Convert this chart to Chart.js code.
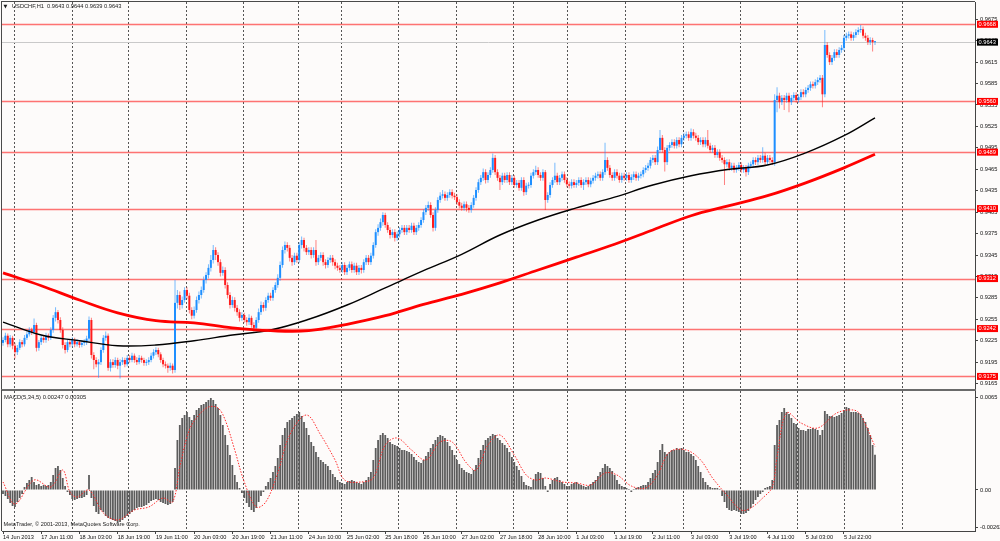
<!DOCTYPE html>
<html><head><meta charset="utf-8">
<script src="https://cdn.jsdelivr.net/npm/chart.js@4.4.0/dist/chart.umd.min.js"></script>
<style>
html,body{margin:0;padding:0;background:#fdfbfa;width:1000px;height:541px;overflow:hidden;}
#p{position:absolute;left:0;top:0;width:1000px;height:390px;}
#m{position:absolute;left:0;top:390px;width:1000px;height:151px;}
</style></head><body>
<div id="p"><canvas id="cp"></canvas></div>
<div id="m"><canvas id="cm"></canvas></div>
<script>
// ---------- DATA ----------
const symbolTitle = "USDCHF,H1  0.9643 0.9644 0.9639 0.9643";
const macdTitle = "MACD(5,34,5) 0.00247 0.00305";
const copyright = "MetaTrader, \u00A9 2001-2013, MetaQuotes Software Corp.";
const firstOpen = 0.9222;
const close = [
0.9226,0.9232,0.9220,0.9229,0.9218,0.9209,0.9215,0.9223,0.9220,0.9229,
0.9234,0.9240,0.9237,0.9247,0.9215,0.9223,0.9229,0.9226,0.9232,0.9229,
0.9240,0.9257,0.9265,0.9254,0.9240,0.9219,0.9212,0.9223,0.9220,0.9226,
0.9220,0.9223,0.9219,0.9222,0.9223,0.9228,0.9254,0.9205,0.9198,0.9192,
0.9195,0.9212,0.9229,0.9232,0.9187,0.9195,0.9191,0.9198,0.9190,0.9195,
0.9198,0.9192,0.9201,0.9198,0.9204,0.9198,0.9195,0.9201,0.9198,0.9194,
0.9195,0.9198,0.9204,0.9209,0.9212,0.9206,0.9198,0.9192,0.9190,0.9187,
0.9190,0.9184,0.9278,0.9289,0.9275,0.9282,0.9296,0.9288,0.9268,0.9260,
0.9268,0.9282,0.9289,0.9296,0.9310,0.9317,0.9327,0.9338,0.9352,0.9345,
0.9335,0.9320,0.9324,0.9303,0.9289,0.9275,0.9282,0.9271,0.9265,0.9257,
0.9261,0.9254,0.9251,0.9257,0.9247,0.9243,0.9254,0.9265,0.9275,0.9271,
0.9282,0.9288,0.9285,0.9296,0.9303,0.9313,0.9331,0.9352,0.9359,0.9355,
0.9341,0.9335,0.9344,0.9338,0.9359,0.9366,0.9355,0.9349,0.9352,0.9345,
0.9352,0.9335,0.9341,0.9345,0.9335,0.9331,0.9338,0.9341,0.9335,0.9330,
0.9327,0.9324,0.9331,0.9321,0.9327,0.9332,0.9324,0.9330,0.9321,0.9327,
0.9324,0.9335,0.9341,0.9335,0.9344,0.9359,0.9377,0.9383,0.9391,0.9401,
0.9387,0.9380,0.9373,0.9377,0.9369,0.9374,0.9380,0.9383,0.9377,0.9383,
0.9380,0.9386,0.9377,0.9383,0.9387,0.9394,0.9405,0.9411,0.9415,0.9401,
0.9383,0.9408,0.9422,0.9428,0.9430,0.9425,0.9429,0.9433,0.9428,0.9426,
0.9419,0.9414,0.9411,0.9416,0.9411,0.9408,0.9415,0.9425,0.9436,0.9447,
0.9453,0.9461,0.9450,0.9457,0.9464,0.9481,0.9461,0.9453,0.9447,0.9456,
0.9450,0.9457,0.9447,0.9453,0.9443,0.9446,0.9439,0.9450,0.9433,0.9442,
0.9443,0.9456,0.9461,0.9464,0.9457,0.9453,0.9461,0.9422,0.9429,0.9443,
0.9450,0.9456,0.9447,0.9453,0.9458,0.9450,0.9444,0.9442,0.9447,0.9443,
0.9446,0.9450,0.9443,0.9447,0.9450,0.9444,0.9449,0.9453,0.9456,0.9458,
0.9453,0.9461,0.9478,0.9467,0.9457,0.9453,0.9461,0.9456,0.9450,0.9456,
0.9453,0.9457,0.9450,0.9454,0.9458,0.9453,0.9456,0.9458,0.9464,0.9467,
0.9470,0.9478,0.9481,0.9475,0.9492,0.9509,0.9492,0.9475,0.9495,0.9499,
0.9503,0.9498,0.9506,0.9500,0.9509,0.9512,0.9514,0.9509,0.9517,0.9512,
0.9509,0.9503,0.9506,0.9500,0.9506,0.9498,0.9492,0.9495,0.9485,0.9489,
0.9481,0.9478,0.9472,0.9475,0.9467,0.9470,0.9464,0.9467,0.9471,0.9464,
0.9467,0.9461,0.9470,0.9472,0.9478,0.9475,0.9481,0.9478,0.9484,0.9475,
0.9481,0.9478,0.9475,0.9562,0.9568,0.9559,0.9565,0.9562,0.9568,0.9559,
0.9565,0.9569,0.9562,0.9566,0.9573,0.9570,0.9576,0.9579,0.9584,0.9582,
0.9587,0.9590,0.9593,0.9570,0.9639,0.9625,0.9615,0.9621,0.9629,0.9625,
0.9632,0.9635,0.9649,0.9652,0.9654,0.9649,0.9653,0.9657,0.9660,0.9661,
0.9652,0.9649,0.9643,0.9646,0.9643,0.9643];
const high = [
0.9230,0.9236,0.9235,0.9233,0.9232,0.9222,0.9219,0.9227,0.9226,0.9233,
0.9238,0.9244,0.9243,0.9256,0.9250,0.9226,0.9233,0.9232,0.9236,0.9235,
0.9244,0.9261,0.9272,0.9268,0.9258,0.9244,0.9223,0.9227,0.9227,0.9230,
0.9229,0.9227,0.9226,0.9226,0.9227,0.9232,0.9259,0.9257,0.9209,0.9202,
0.9199,0.9216,0.9233,0.9238,0.9235,0.9199,0.9199,0.9202,0.9201,0.9199,
0.9202,0.9201,0.9205,0.9205,0.9208,0.9207,0.9202,0.9205,0.9204,0.9201,
0.9199,0.9202,0.9208,0.9213,0.9216,0.9215,0.9209,0.9201,0.9196,0.9193,
0.9194,0.9193,0.9310,0.9296,0.9294,0.9287,0.9300,0.9300,0.9292,0.9272,
0.9273,0.9287,0.9294,0.9301,0.9315,0.9321,0.9332,0.9345,0.9359,0.9356,
0.9349,0.9339,0.9329,0.9328,0.9307,0.9293,0.9287,0.9286,0.9275,0.9269,
0.9265,0.9264,0.9258,0.9262,0.9260,0.9251,0.9258,0.9270,0.9280,0.9279,
0.9286,0.9292,0.9292,0.9300,0.9307,0.9318,0.9336,0.9357,0.9364,0.9363,
0.9359,0.9345,0.9348,0.9348,0.9363,0.9371,0.9369,0.9359,0.9356,0.9356,
0.9356,0.9366,0.9345,0.9349,0.9349,0.9339,0.9342,0.9345,0.9345,0.9339,
0.9334,0.9331,0.9335,0.9335,0.9331,0.9336,0.9336,0.9334,0.9334,0.9331,
0.9331,0.9339,0.9345,0.9345,0.9348,0.9363,0.9381,0.9388,0.9396,0.9405,
0.9404,0.9391,0.9384,0.9381,0.9381,0.9378,0.9384,0.9387,0.9387,0.9387,
0.9387,0.9390,0.9390,0.9387,0.9391,0.9398,0.9409,0.9415,0.9420,0.9419,
0.9405,0.9412,0.9426,0.9433,0.9436,0.9434,0.9433,0.9437,0.9437,0.9432,
0.9430,0.9423,0.9418,0.9420,0.9420,0.9415,0.9419,0.9429,0.9440,0.9451,
0.9457,0.9466,0.9465,0.9461,0.9468,0.9487,0.9485,0.9465,0.9457,0.9460,
0.9460,0.9461,0.9461,0.9457,0.9457,0.9450,0.9450,0.9454,0.9454,0.9446,
0.9447,0.9460,0.9465,0.9470,0.9468,0.9461,0.9465,0.9464,0.9433,0.9447,
0.9454,0.9474,0.9460,0.9457,0.9462,0.9462,0.9454,0.9448,0.9451,0.9451,
0.9450,0.9454,0.9454,0.9451,0.9454,0.9454,0.9453,0.9457,0.9460,0.9462,
0.9462,0.9465,0.9502,0.9482,0.9471,0.9461,0.9465,0.9465,0.9460,0.9460,
0.9460,0.9461,0.9461,0.9458,0.9462,0.9462,0.9460,0.9462,0.9468,0.9471,
0.9474,0.9482,0.9485,0.9485,0.9497,0.9520,0.9513,0.9496,0.9499,0.9503,
0.9507,0.9507,0.9510,0.9510,0.9513,0.9516,0.9518,0.9518,0.9522,0.9521,
0.9516,0.9513,0.9510,0.9510,0.9510,0.9520,0.9502,0.9499,0.9499,0.9493,
0.9493,0.9485,0.9482,0.9479,0.9479,0.9474,0.9474,0.9471,0.9475,0.9475,
0.9471,0.9471,0.9474,0.9476,0.9482,0.9482,0.9485,0.9485,0.9496,0.9488,
0.9485,0.9485,0.9482,0.9570,0.9580,0.9572,0.9569,0.9569,0.9572,0.9572,
0.9569,0.9573,0.9573,0.9570,0.9577,0.9577,0.9580,0.9583,0.9588,0.9588,
0.9591,0.9594,0.9597,0.9597,0.9660,0.9643,0.9629,0.9625,0.9633,0.9633,
0.9636,0.9639,0.9653,0.9656,0.9658,0.9658,0.9657,0.9661,0.9664,0.9667,
0.9665,0.9656,0.9653,0.9650,0.9649,0.9644];
const low = [
0.9218,0.9223,0.9216,0.9216,0.9213,0.9200,0.9205,0.9212,0.9216,0.9217,
0.9226,0.9231,0.9233,0.9234,0.9210,0.9211,0.9219,0.9222,0.9222,0.9225,
0.9226,0.9236,0.9252,0.9249,0.9236,0.9214,0.9207,0.9209,0.9216,0.9216,
0.9216,0.9217,0.9215,0.9216,0.9218,0.9219,0.9224,0.9200,0.9185,0.9188,
0.9173,0.9191,0.9208,0.9225,0.9183,0.9182,0.9187,0.9187,0.9185,0.9172,
0.9191,0.9188,0.9189,0.9194,0.9195,0.9194,0.9191,0.9192,0.9194,0.9190,
0.9190,0.9191,0.9195,0.9200,0.9205,0.9202,0.9194,0.9188,0.9186,0.9180,
0.9183,0.9179,0.9180,0.9270,0.9268,0.9270,0.9278,0.9283,0.9263,0.9255,
0.9256,0.9264,0.9277,0.9284,0.9292,0.9305,0.9312,0.9322,0.9333,0.9338,
0.9330,0.9315,0.9316,0.9298,0.9284,0.9270,0.9271,0.9266,0.9260,0.9252,
0.9253,0.9250,0.9246,0.9247,0.9243,0.9238,0.9240,0.9250,0.9261,0.9266,
0.9267,0.9278,0.9281,0.9281,0.9292,0.9299,0.9309,0.9327,0.9347,0.9350,
0.9336,0.9330,0.9331,0.9334,0.9334,0.9354,0.9350,0.9345,0.9345,0.9340,
0.9341,0.9330,0.9331,0.9337,0.9330,0.9326,0.9327,0.9334,0.9330,0.9325,
0.9323,0.9320,0.9320,0.9317,0.9317,0.9323,0.9320,0.9320,0.9317,0.9317,
0.9319,0.9320,0.9331,0.9331,0.9331,0.9340,0.9355,0.9372,0.9379,0.9386,
0.9383,0.9376,0.9368,0.9369,0.9364,0.9365,0.9370,0.9376,0.9373,0.9373,
0.9376,0.9376,0.9373,0.9373,0.9379,0.9383,0.9390,0.9401,0.9407,0.9397,
0.9378,0.9379,0.9404,0.9418,0.9424,0.9421,0.9421,0.9425,0.9424,0.9422,
0.9415,0.9410,0.9407,0.9407,0.9406,0.9404,0.9404,0.9411,0.9421,0.9432,
0.9443,0.9449,0.9445,0.9446,0.9453,0.9460,0.9457,0.9449,0.9436,0.9443,
0.9446,0.9446,0.9443,0.9443,0.9439,0.9439,0.9435,0.9435,0.9428,0.9429,
0.9438,0.9439,0.9452,0.9457,0.9453,0.9449,0.9449,0.9408,0.9418,0.9425,
0.9439,0.9446,0.9443,0.9443,0.9449,0.9446,0.9440,0.9438,0.9438,0.9439,
0.9439,0.9442,0.9439,0.9436,0.9443,0.9440,0.9440,0.9445,0.9449,0.9452,
0.9449,0.9449,0.9457,0.9463,0.9453,0.9449,0.9449,0.9452,0.9446,0.9446,
0.9449,0.9449,0.9446,0.9446,0.9450,0.9449,0.9449,0.9452,0.9454,0.9460,
0.9463,0.9466,0.9474,0.9471,0.9471,0.9488,0.9488,0.9462,0.9471,0.9491,
0.9495,0.9494,0.9494,0.9496,0.9496,0.9505,0.9508,0.9505,0.9505,0.9508,
0.9505,0.9499,0.9499,0.9496,0.9496,0.9494,0.9488,0.9488,0.9481,0.9481,
0.9477,0.9474,0.9443,0.9468,0.9463,0.9463,0.9460,0.9460,0.9463,0.9460,
0.9460,0.9455,0.9457,0.9466,0.9468,0.9471,0.9471,0.9474,0.9474,0.9471,
0.9471,0.9474,0.9471,0.9470,0.9545,0.9550,0.9555,0.9548,0.9558,0.9545,
0.9555,0.9561,0.9558,0.9558,0.9562,0.9566,0.9566,0.9572,0.9575,0.9578,
0.9578,0.9583,0.9586,0.9552,0.9566,0.9621,0.9611,0.9611,0.9617,0.9621,
0.9621,0.9628,0.9631,0.9645,0.9648,0.9645,0.9645,0.9649,0.9653,0.9656,
0.9648,0.9645,0.9639,0.9639,0.9630,0.9639];

const maBars  = [0,16,32,48,64,80,96,112,128,144,160,176,192,208,224,240,256,272,288,304,320,336,352,365];
const maBlack = [0.9251,0.9233,0.9225,0.9218,0.9219,0.9225,0.9233,0.9240,0.9255,0.9275,0.9299,0.9323,0.9346,0.9373,0.9394,0.9411,0.9426,0.9443,0.9456,0.9465,0.9471,0.9488,0.9512,0.9537];
const maRed   = [0.9320,0.9302,0.9282,0.9264,0.9253,0.9250,0.9243,0.9239,0.9239,0.9248,0.9260,0.9276,0.9290,0.9306,0.9324,0.9342,0.9360,0.9380,0.9400,0.9414,0.9428,0.9446,0.9467,0.9486];

const levels = [0.9668,0.9560,0.9489,0.9410,0.9312,0.9242,0.9175];
const bidPrice = 0.9643;
const priceTicks = [0.9675,0.9645,0.9615,0.9585,0.9555,0.9525,0.9495,0.9465,0.9435,0.9405,0.9375,0.9345,0.9315,0.9285,0.9255,0.9225,0.9195,0.9165];

const macdHist = [
-0.00028,-0.00042,-0.00063,-0.00091,-0.00112,-0.00119,-0.00084,-0.00056,-0.00028,0.00021,
0.00049,0.00070,0.00091,0.00056,0.00035,0.00042,0.00028,0.00035,0.00028,0.00035,
0.00056,0.00105,0.00154,0.00168,0.00140,0.00084,0.00028,-0.00014,-0.00035,-0.00063,
-0.00070,-0.00063,-0.00056,-0.00056,-0.00049,-0.00035,0.00105,-0.00056,-0.00112,-0.00154,
-0.00168,-0.00140,-0.00154,-0.00182,-0.00196,-0.00203,-0.00210,-0.00217,-0.00231,-0.00224,
-0.00210,-0.00196,-0.00182,-0.00168,-0.00154,-0.00140,-0.00126,-0.00119,-0.00119,-0.00112,
-0.00105,-0.00091,-0.00077,-0.00070,-0.00063,-0.00070,-0.00084,-0.00091,-0.00098,-0.00105,
-0.00098,-0.00084,0.00154,0.00350,0.00455,0.00504,0.00525,0.00546,0.00511,0.00490,
0.00525,0.00560,0.00574,0.00595,0.00602,0.00616,0.00630,0.00644,0.00630,0.00602,
0.00574,0.00525,0.00455,0.00385,0.00315,0.00245,0.00175,0.00105,0.00056,0.00014,
-0.00021,-0.00056,-0.00091,-0.00119,-0.00140,-0.00154,-0.00126,-0.00084,-0.00042,-0.00014,
0.00028,0.00056,0.00084,0.00126,0.00168,0.00224,0.00315,0.00385,0.00434,0.00476,
0.00490,0.00504,0.00518,0.00532,0.00546,0.00518,0.00476,0.00434,0.00385,0.00336,
0.00308,0.00266,0.00231,0.00210,0.00196,0.00182,0.00168,0.00140,0.00112,0.00091,
0.00070,0.00056,0.00049,0.00042,0.00056,0.00063,0.00070,0.00063,0.00056,0.00049,
0.00042,0.00056,0.00070,0.00091,0.00126,0.00210,0.00294,0.00350,0.00385,0.00399,
0.00385,0.00364,0.00336,0.00322,0.00315,0.00308,0.00294,0.00280,0.00280,0.00273,
0.00266,0.00252,0.00231,0.00210,0.00196,0.00189,0.00210,0.00238,0.00266,0.00294,
0.00322,0.00350,0.00371,0.00385,0.00378,0.00364,0.00336,0.00308,0.00280,0.00245,
0.00210,0.00182,0.00154,0.00140,0.00126,0.00119,0.00112,0.00140,0.00175,0.00224,
0.00280,0.00315,0.00350,0.00364,0.00378,0.00392,0.00385,0.00364,0.00350,0.00329,
0.00315,0.00294,0.00266,0.00231,0.00196,0.00168,0.00140,0.00098,0.00056,0.00035,
0.00028,0.00021,0.00070,0.00112,0.00126,0.00119,0.00084,0.00028,-0.00014,0.00042,
0.00070,0.00084,0.00091,0.00070,0.00056,0.00042,0.00028,0.00028,0.00042,0.00049,
0.00056,0.00042,0.00035,0.00028,0.00021,0.00028,0.00042,0.00056,0.00070,0.00098,
0.00126,0.00154,0.00182,0.00168,0.00154,0.00133,0.00105,0.00070,0.00042,0.00028,
0.00021,0.00014,0.00007,-0.00014,0.00007,0.00014,0.00021,0.00028,0.00035,0.00035,
0.00056,0.00084,0.00119,0.00140,0.00196,0.00280,0.00322,0.00266,0.00252,0.00266,
0.00280,0.00280,0.00294,0.00287,0.00294,0.00280,0.00266,0.00266,0.00252,0.00238,
0.00210,0.00168,0.00126,0.00084,0.00056,0.00035,0.00021,0.00014,0.00014,0.00014,
0.00007,-0.00042,-0.00084,-0.00126,-0.00140,-0.00147,-0.00140,-0.00147,-0.00154,-0.00168,
-0.00168,-0.00161,-0.00147,-0.00126,-0.00098,-0.00070,-0.00049,-0.00028,-0.00014,0.00014,
0.00021,0.00028,0.00070,0.00315,0.00455,0.00490,0.00546,0.00574,0.00546,0.00532,
0.00504,0.00469,0.00462,0.00434,0.00420,0.00420,0.00413,0.00427,0.00427,0.00434,
0.00427,0.00420,0.00385,0.00420,0.00553,0.00532,0.00518,0.00518,0.00511,0.00518,
0.00525,0.00539,0.00560,0.00581,0.00574,0.00546,0.00546,0.00546,0.00539,0.00532,
0.00504,0.00476,0.00434,0.00385,0.00315,0.00247];
const sigBars = [0,5,13,20,25,28,31,36,42,48,55,61,67,71,74,78,82,86,90,93,97,101,106,110,115,120,127,133,139,143,150,155,160,165,171,177,183,188,194,198,203,208,214,219,223,227,234,240,246,252,257,263,269,274,279,286,292,297,303,309,313,318,322,324,328,334,341,349,356,359,365];
const sigVals = [0.00056,-0.00098,0.00070,0.00021,0.00140,-0.00014,-0.00049,0,-0.00161,-0.00210,-0.00140,-0.00119,-0.00056,-0.00084,0.00161,0.00420,0.00525,0.00581,0.00574,0.00490,0.00280,0.00056,-0.00119,-0.00084,0.00119,0.00385,0.00525,0.00385,0.00210,0.00070,0.00056,0.00084,0.00315,0.00364,0.00280,0.00210,0.00336,0.00336,0.00189,0.00140,0.00315,0.00385,0.00245,0.00105,0.00070,0.00084,0.00056,0.00049,0.00035,0.00119,0.00105,0.00028,0.00014,0.00105,0.00266,0.00280,0.00210,0.00084,-0.00035,-0.00140,-0.00126,-0.00056,0.00021,0.00231,0.00539,0.00469,0.00434,0.00539,0.00560,0.00525,0.00305];
const macdTicks = [0.0065, 0, -0.00262];
const macdTickLabels = ["0.0065","0.00","-0.00262"];

const timeLabels = ["14 Jun 2013","17 Jun 11:00","18 Jun 03:00","18 Jun 19:00","19 Jun 11:00","20 Jun 03:00","20 Jun 19:00","21 Jun 11:00","24 Jun 10:00","25 Jun 02:00","25 Jun 18:00","26 Jun 10:00","27 Jun 02:00","27 Jun 18:00","28 Jun 10:00","1 Jul 03:00","1 Jul 19:00","2 Jul 11:00","3 Jul 03:00","3 Jul 19:00","4 Jul 11:00","5 Jul 03:00","5 Jul 22:00"];
const labelBars = [0,16,32,48,64,80,96,112,128,144,160,176,192,208,224,240,256,272,288,304,320,336,352];
const gridBars = [4.6,28.9,52.3,76.6,100.5,123.5,141.5,165.3,189.6,213.5,236.1,260.4,284.6,308.5,332.4,352,376.3];

// ---------- CHART ----------
const FONT = '"Liberation Sans", Arial, sans-serif';
const XMIN = -0.42, XMAX = 406.86;
const open = close.map((c,i)=> i===0 ? firstOpen : close[i-1]);
const isBull = close.map((c,i)=> c >= open[i]);
const bodyCol = isBull.map(b=> b ? '#1e8fff' : '#ff1c1c');
const wickCol = isBull.map(b=> b ? 'rgba(30,143,255,0.6)' : 'rgba(255,28,28,0.55)');

function vGrid(chart){
  const {ctx, chartArea:a, scales:{x}} = chart;
  ctx.save();
  ctx.strokeStyle = '#555'; ctx.lineWidth = 1; ctx.setLineDash([2,2]);
  gridBars.forEach(b=>{
    const px = Math.round(x.getPixelForValue(b)) + 0.5;
    ctx.beginPath(); ctx.moveTo(px, a.top); ctx.lineTo(px, a.bottom); ctx.stroke();
  });
  ctx.restore();
}

const pricePlugin = {
  id: 'pricePlugin',
  beforeDatasetsDraw(chart){
    const {ctx, chartArea:a, scales:{y}} = chart;
    vGrid(chart);
    ctx.save();
    ctx.strokeStyle = '#c9c9c9'; ctx.lineWidth = 1;
    let py = Math.round(y.getPixelForValue(bidPrice)) + 0.5;
    ctx.beginPath(); ctx.moveTo(a.left, py); ctx.lineTo(a.right, py); ctx.stroke();
    ctx.strokeStyle = 'rgba(255,30,30,0.62)'; ctx.lineWidth = 1.6;
    levels.forEach(v=>{
      const p = Math.round(y.getPixelForValue(v)) + 0.5;
      ctx.beginPath(); ctx.moveTo(a.left, p); ctx.lineTo(a.right, p); ctx.stroke();
    });
    ctx.restore();
  },
  afterDraw(chart){
    const {ctx, chartArea:a, scales:{y}} = chart;
    ctx.save();
    ctx.fillStyle = '#4a4a4a';
    ctx.fillRect(1, 1, a.right - 1, 1);
    ctx.fillRect(1, 1, 1, chart.height);
    ctx.fillStyle = '#6a6a6a';
    ctx.fillRect(1, a.bottom, a.right, 2);
    ctx.font = '5.7px ' + FONT; ctx.textBaseline = 'middle'; ctx.textAlign = 'left';
    const bx = a.right + 2, bw = 21, bh = 7;
    const box = (v, col) => {
      const p = y.getPixelForValue(v);
      ctx.fillStyle = col; ctx.fillRect(bx, p - bh/2, bw, bh);
      ctx.fillStyle = '#fff'; ctx.fillText(v.toFixed(4), bx + 1.5, p + 0.3);
    };
    levels.forEach(v=>box(v, '#ff0000'));
    box(bidPrice, '#000');
    ctx.fillStyle = '#1a1a1a';
    ctx.font = '5px "DejaVu Sans", sans-serif';
    ctx.fillText('\u25BC', 3.5, 6.5);
    ctx.font = '5.7px ' + FONT;
    ctx.fillText(symbolTitle, 12, 6.5);
    ctx.restore();
  }
};

const macdPlugin = {
  id: 'macdPlugin',
  beforeDatasetsDraw(chart){ vGrid(chart); },
  afterDraw(chart){
    const {ctx, chartArea:a} = chart;
    ctx.save();
    ctx.fillStyle = '#6a6a6a';
    ctx.fillRect(1, 0, a.right, 1);
    ctx.fillStyle = '#4a4a4a';
    ctx.fillRect(1, 0, 1, a.bottom);
    ctx.fillStyle = '#1a1a1a';
    ctx.font = '5.8px ' + FONT; ctx.textBaseline = 'middle'; ctx.textAlign = 'left';
    ctx.fillText(macdTitle, 4, 7);
    ctx.font = '5.6px ' + FONT;
    ctx.fillText(copyright, 3.5, 134.5);
    ctx.restore();
  }
};

const xCommon = {
  type: 'linear', min: XMIN, max: XMAX, offset: false,
  grid: { display: false, offset: false }
};
const yRightFit = s => { s.width = 25; s.paddingTop = 0; s.paddingBottom = 0; };

new Chart(document.getElementById('cp'), {
  type: 'bar',
  data: {
    datasets: [
      { type: 'line', label: 'MA black', data: maBars.map((b,k)=>({x:b, y:maBlack[k]})),
        borderColor: '#000', borderWidth: 1.4, pointRadius: 0, tension: 0.4, order: 1 },
      { type: 'line', label: 'MA red', data: maBars.map((b,k)=>({x:b, y:maRed[k]})),
        borderColor: '#ff0000', borderWidth: 2.8, pointRadius: 0, tension: 0.4, order: 0 },
      { label: 'wick', data: close.map((c,i)=>({x:i, y:[low[i], high[i]]})),
        backgroundColor: wickCol, barThickness: 1, grouped: false, inflateAmount: 0, order: 3 },
      { label: 'body', data: close.map((c,i)=>({x:i, y:[open[i], c]})),
        backgroundColor: bodyCol, barThickness: 2, grouped: false, inflateAmount: 0, minBarLength: 1, order: 2 }
    ]
  },
  options: {
    responsive: true, maintainAspectRatio: false, animation: false,
    layout: { padding: { left: 2, top: 2, right: 0, bottom: 1 } },
    plugins: { legend: { display: false }, tooltip: { enabled: false } },
    events: [],
    scales: {
      x: Object.assign({}, xCommon, { display: false }),
      y: {
        position: 'right', min: 0.91574, max: 0.96992, beginAtZero: false,
        afterFit: yRightFit,
        afterBuildTicks: s => { s.ticks = priceTicks.map(v=>({value:v})); },
        ticks: { autoSkip: false, padding: 2, color: '#111', font: { family: FONT, size: 5.7 },
                 callback: v => v.toFixed(4) },
        grid: { drawOnChartArea: false, drawTicks: true, tickLength: 3, color: '#444' },
        border: { display: true, color: '#444', width: 1 }
      }
    }
  },
  plugins: [pricePlugin]
});

new Chart(document.getElementById('cm'), {
  type: 'bar',
  data: {
    datasets: [
      { type: 'line', label: 'Signal', data: sigBars.map((b,k)=>({x:b, y:sigVals[k]})),
        borderColor: '#ff2a2a', borderWidth: 1, borderDash: [1.5,1.5], pointRadius: 0, tension: 0.35, order: 0 },
      { label: 'MACD', data: macdHist.map((v,i)=>({x:i, y:v})),
        backgroundColor: '#5c5c5c', barThickness: 1.8, grouped: false, inflateAmount: 0, order: 1 }
    ]
  },
  options: {
    responsive: true, maintainAspectRatio: false, animation: false,
    layout: { padding: { left: 2, top: 1, right: 0, bottom: 0 } },
    plugins: { legend: { display: false }, tooltip: { enabled: false } },
    events: [],
    scales: {
      x: Object.assign({}, xCommon, {
        display: true,
        afterFit: s => { s.height = 10; s.paddingLeft = 0; s.paddingRight = 0; },
        afterBuildTicks: s => { s.ticks = labelBars.map(v=>({value:v})); },
        ticks: { autoSkip: false, maxRotation: 0, minRotation: 0, align: 'start', padding: 0,
                 color: '#111', font: { family: FONT, size: 5.6 },
                 callback: (v, idx) => timeLabels[idx] },
        grid: { display: true, drawOnChartArea: false, drawTicks: true, tickLength: 3, color: '#444', offset: false },
        border: { display: true, color: '#444', width: 1 }
      }),
      y: {
        position: 'right', min: -0.00287, max: 0.00693, beginAtZero: false,
        afterFit: yRightFit,
        afterBuildTicks: s => { s.ticks = macdTicks.map(v=>({value:v})); },
        ticks: { autoSkip: false, padding: 2, color: '#111', font: { family: FONT, size: 5.7 },
                 callback: (v, idx) => macdTickLabels[idx] },
        grid: { drawOnChartArea: false, drawTicks: true, tickLength: 3, color: '#444' },
        border: { display: true, color: '#444', width: 1 }
      }
    }
  },
  plugins: [macdPlugin]
});
</script>
</body></html>
